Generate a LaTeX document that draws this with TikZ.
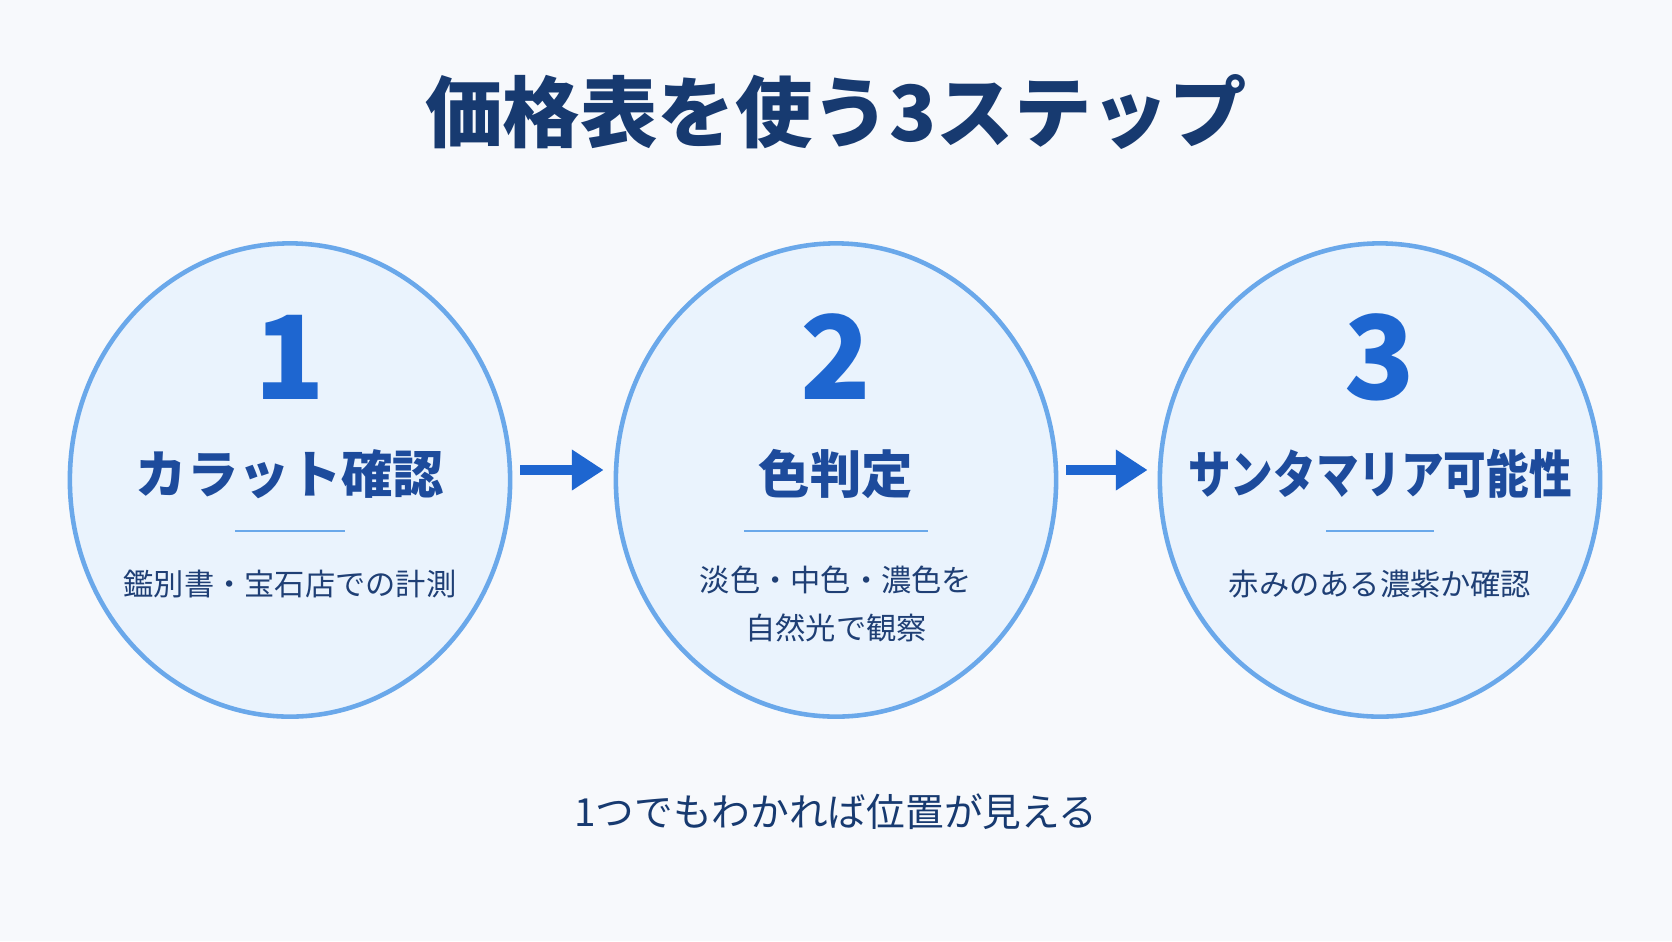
\documentclass[tikz,border=0pt]{standalone}
\usepackage{fontspec}
\usepackage{graphicx}
\setmainfont{Noto Sans CJK JP}
\usetikzlibrary{arrows.meta,shapes.geometric}
\definecolor{bg}{HTML}{F7F9FC}
\definecolor{navy}{HTML}{173A70}
\definecolor{numblue}{HTML}{1E66D0}
\definecolor{lblblue}{HTML}{1D4B9C}
\definecolor{cfill}{HTML}{EAF3FD}
\definecolor{cdraw}{HTML}{6AA8EA}
\definecolor{subtxt}{HTML}{1F3F75}
\tikzset{
 stepcircle/.style={ellipse,draw=cdraw,fill=cfill,line width=1.3pt,minimum width=4.40cm,minimum height=4.73cm,inner sep=0pt},
 stepnum/.style={text=numblue,font=\fontsize{33}{33}\selectfont\bfseries},
 steplabel/.style={text=lblblue,font=\fontsize{14.6}{18}\selectfont\bfseries},
 stepsub/.style={text=subtxt,font=\fontsize{8.6}{13.5}\selectfont,align=center},
 sepline/.style={draw=cdraw,line width=0.7pt},
 flowarrow/.style={draw=numblue,line width=3pt,-{Triangle[length=9pt,width=11pt]}}
}
\begin{document}
\begin{tikzpicture}[x=0.01cm,y=-0.01cm]
\fill[bg] (0,0) rectangle (1672,941);
\useasboundingbox (0,0) rectangle (1672,941);
\node[text=navy,font=\fontsize{22}{26}\selectfont\bfseries] (title) at (836,112) {価格表を使う3ステップ};
\node[stepcircle] (c1) at (290,480) {};
\node[stepcircle] (c2) at (836,480) {};
\node[stepcircle] (c3) at (1380,480) {};
\foreach \n/\x/\lab/\w in {1/290/カラット確認/55,2/836/色判定/92,3/1380/\scalebox{0.83}[1]{サンタマリア可能性}/54}{
 \node[stepnum] (n\n) at (\x,357) {\n};
 \node[steplabel] (l\n) at (\x,474) {\lab};
 \draw[sepline] (\x-\w,531) -- (\x+\w,531);
}
\node[stepsub] (s1) at (290,584) {鑑別書・宝石店での計測};
\node[stepsub] (s2) at (836,604) {淡色・中色・濃色を\\自然光で観察};
\node[stepsub] (s3) at (1380,584) {赤みのある濃紫か確認};
\draw[flowarrow] ([xshift=0.08cm,yshift=0.1cm]c1.east) -- ([xshift=-0.1cm,yshift=0.1cm]c2.west);
\draw[flowarrow] ([xshift=0.08cm,yshift=0.1cm]c2.east) -- ([xshift=-0.1cm,yshift=0.1cm]c3.west);
\node[text=navy,font=\fontsize{11}{13}\selectfont] (foot) at (836,812) {1つでもわかれば位置が見える};
\end{tikzpicture}
\end{document}
